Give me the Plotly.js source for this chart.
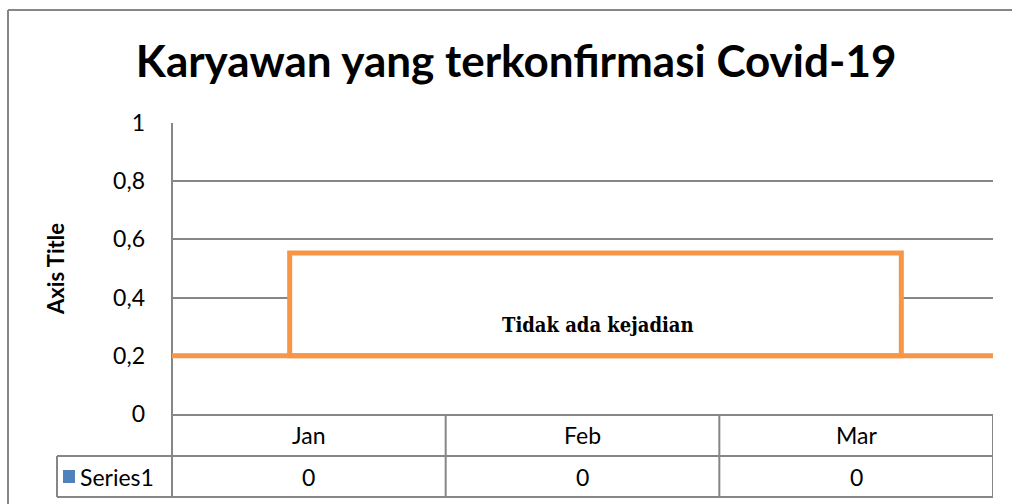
<!DOCTYPE html>
<html>
<head>
<meta charset="utf-8">
<script src="https://cdn.plot.ly/plotly-3.0.1.min.js"></script>
<style>html,body{margin:0;padding:0;background:#fff;}#chart{width:1012px;height:504px;}</style>
</head>
<body>
<div id="chart"></div>
<script>
// ---- data ----
const categories = ["Jan", "Feb", "Mar"];
const seriesName = "Series1";
const seriesValues = [0, 0, 0];
const yTickValues = [0, 0.2, 0.4, 0.6, 0.8, 1];
const chartTitle = "Karyawan yang terkonfirmasi Covid-19";
const yAxisTitle = "Axis Title";
const noteText = "Tidak ada kejadian";
const baseLineValue = 0.2;
const boxTopValue = 0.553;
const boxLeftCat = -0.07;
const boxRightCat = 2.165;

// ---- style ----
const grey = "#868686";
const orange = "#F79646";
const blue = "#4F81BD";
const fam = "Lato, 'Liberation Sans', sans-serif";
const tickFont = {family: fam, size: 23, color: "#000"};

const W = 1012, H = 504;
const m = {l: 172, r: 19, t: 123, b: 90};
const plotW = W - m.l - m.r, plotH = H - m.t - m.b;
// pixel -> paper helpers (for table layout only)
const px = x => (x - m.l) / plotW;
const py = y => (H - m.b - y) / plotH;

const trace = {
  type: "bar",
  x: categories,
  y: seriesValues,
  name: seriesName,
  marker: {color: blue},
  showlegend: false,
  hoverinfo: "skip"
};

const shapes = [];
const annotations = [];

// outer chart border (top and left)
shapes.push({type: "line", xref: "paper", yref: "paper", x0: px(8), x1: px(1012), y0: py(10), y1: py(10), line: {color: grey, width: 2}});
shapes.push({type: "line", xref: "paper", yref: "paper", x0: px(8), x1: px(8), y0: py(10), y1: py(504), line: {color: grey, width: 2}});

// table lines
const rowTop = 414, rowMid = 456, rowBot = 497;
shapes.push({type: "line", xref: "paper", yref: "paper", x0: px(172), x1: px(172), y0: py(123), y1: py(rowBot), line: {color: grey, width: 2}});
shapes.push({type: "line", xref: "paper", yref: "paper", x0: px(57), x1: px(993), y0: py(rowMid), y1: py(rowMid), line: {color: grey, width: 2}});
shapes.push({type: "line", xref: "paper", yref: "paper", x0: px(57), x1: px(993), y0: py(rowBot), y1: py(rowBot), line: {color: grey, width: 2}});
shapes.push({type: "line", xref: "paper", yref: "paper", x0: px(57), x1: px(57), y0: py(rowMid), y1: py(rowBot), line: {color: grey, width: 2}});
categories.forEach((c, i) => {
  const xr = i + 0.5;
  shapes.push({type: "line", xref: "x", yref: "paper", x0: xr, x1: xr, y0: py(rowTop), y1: py(rowBot), line: {color: grey, width: 2}});
  annotations.push({xref: "x", yref: "paper", x: c, y: py((rowTop + rowMid) / 2), text: c, showarrow: false, font: tickFont, yanchor: "middle"});
  annotations.push({xref: "x", yref: "paper", x: c, y: py((rowMid + rowBot) / 2), text: String(seriesValues[i]).replace(".", ","), showarrow: false, font: tickFont, yanchor: "middle"});
});
// series legend key in table
shapes.push({type: "rect", xref: "paper", yref: "paper", x0: px(63), x1: px(75), y0: py(470), y1: py(483), fillcolor: blue, line: {width: 0}});
annotations.push({xref: "paper", yref: "paper", x: px(78), y: py((rowMid + rowBot) / 2), text: seriesName, showarrow: false, xanchor: "left", yanchor: "middle", font: {family: fam, size: 23, color: "#000"}});

// orange annotation shapes
shapes.push({type: "rect", xref: "x", yref: "y", x0: boxLeftCat, x1: boxRightCat, y0: baseLineValue, y1: boxTopValue, line: {color: orange, width: 5}, fillcolor: "rgba(255,255,255,1)", layer: "above"});
shapes.push({type: "line", xref: "paper", yref: "y", x0: 0, x1: 1, y0: baseLineValue, y1: baseLineValue, line: {color: orange, width: 5}, layer: "above"});
annotations.push({xref: "x", yref: "y", x: 1.055, y: 0.305, text: "<b>" + noteText + "</b>", showarrow: false, yanchor: "middle",
  font: {family: "'DejaVu Serif Condensed', 'Liberation Serif', serif", size: 20, color: "#000"}});

const layout = {
  width: W, height: H,
  margin: m,
  paper_bgcolor: "#fff", plot_bgcolor: "#fff",
  separators: ",.",
  showlegend: false,
  title: {text: "<b>" + chartTitle + "</b>", x: 0.51, xanchor: "center", y: 0.878, yanchor: "middle",
    font: {family: fam, size: 44, color: "#000"}},
  xaxis: {type: "category", range: [-0.5, 2.5], showticklabels: false, ticks: "", showgrid: false, zeroline: false,
    showline: true, linecolor: grey, linewidth: 2, fixedrange: true},
  yaxis: {range: [0, 1], tickvals: yTickValues, tickformat: ".1~f", showgrid: true, gridcolor: grey, gridwidth: 2,
    zeroline: false, showline: false, ticks: "", tickfont: tickFont, ticklabelstandoff: 26,
    title: {text: "<b>" + yAxisTitle + "</b>", font: {family: fam, size: 22, color: "#000"}, standoff: 42},
    fixedrange: true},
  shapes: shapes,
  annotations: annotations
};

Plotly.newPlot("chart", [trace], layout, {displayModeBar: false, staticPlot: true});
</script>
</body>
</html>
